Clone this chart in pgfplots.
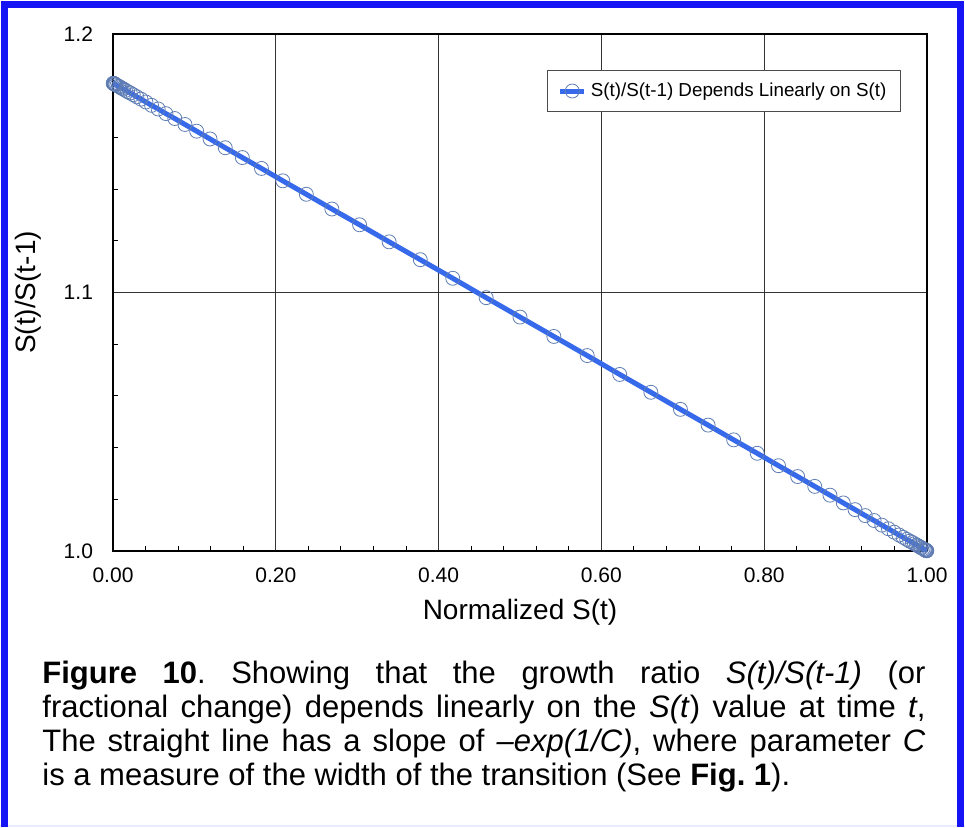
\documentclass[border=0pt]{standalone}
\usepackage{fontspec}
\setmainfont{Liberation Sans}
\usepackage{pgfplots}
\pgfplotsset{compat=1.18}
\definecolor{frameblue}{RGB}{20,20,245}
\definecolor{lineblue}{RGB}{55,105,235}
\definecolor{markgray}{RGB}{95,125,180}

\pgfplotstableread{
x y
0.0003 1.1809
0.0005 1.1809
0.0009 1.1808
0.0013 1.1808
0.0018 1.1807
0.0025 1.1806
0.0034 1.1804
0.0048 1.1801
0.0067 1.1798
0.0079 1.1796
0.0093 1.1793
0.0110 1.1790
0.0129 1.1787
0.0153 1.1782
0.0180 1.1777
0.0212 1.1772
0.0249 1.1765
0.0293 1.1757
0.0344 1.1748
0.0404 1.1737
0.0474 1.1724
0.0555 1.1710
0.0650 1.1692
0.0759 1.1673
0.0884 1.1650
0.1028 1.1624
0.1192 1.1594
0.1379 1.1560
0.1589 1.1522
0.1824 1.1480
0.2086 1.1432
0.2375 1.1380
0.2689 1.1323
0.3029 1.1262
0.3392 1.1196
0.3775 1.1127
0.4174 1.1055
0.4584 1.0980
0.5000 1.0905
0.5416 1.0830
0.5826 1.0756
0.6225 1.0683
0.6608 1.0614
0.6971 1.0548
0.7311 1.0487
0.7625 1.0430
0.7914 1.0378
0.8176 1.0330
0.8411 1.0288
0.8621 1.0250
0.8808 1.0216
0.8972 1.0186
0.9116 1.0160
0.9241 1.0137
0.9350 1.0118
0.9445 1.0100
0.9526 1.0086
0.9596 1.0073
0.9656 1.0062
0.9707 1.0053
0.9751 1.0045
0.9788 1.0038
0.9820 1.0033
0.9847 1.0028
0.9871 1.0023
0.9890 1.0020
0.9907 1.0017
0.9921 1.0014
0.9933 1.0012
0.9952 1.0009
0.9966 1.0006
0.9975 1.0005
0.9982 1.0003
0.9987 1.0002
0.9991 1.0002
0.9995 1.0001
0.9997 1.0001
}\ratiodata

\begin{document}
\frenchspacing
\begin{tikzpicture}[x=1pt,y=1pt]
\useasboundingbox (0,0) rectangle (482.5,413.5);
\fill[white] (0,0) rectangle (482.5,413.5);
% frame: open at the bottom, as in the cropped original
\draw[blue!8, line width=1pt] (0,0.5) -- (482.5,0.5);
\draw[frameblue, line width=3.5pt] (2.25,0) -- (2.25,411.25) -- (480.25,411.25) -- (480.25,0);

\begin{axis}[
  at={(56.5pt,138pt)}, anchor=south west,
  width=407pt, height=258.5pt, scale only axis,
  xmin=0, xmax=1, ymin=1.0, ymax=1.2,
  xtick={0,0.2,0.4,0.6,0.8,1.0},
  ytick={1.0,1.1,1.2},
  minor x tick num=4, minor y tick num=4,
  xtick pos=left, ytick pos=left,
  tick align=inside,
  major tick length=0pt, minor tick length=2.5pt,
  minor tick style={black, line width=0.5pt},
  grid=major,
  major grid style={black!80, line width=0.5pt},
  axis line style={black, line width=1pt},
  /pgf/number format/assume math mode=true,
  xticklabel style={font=\fontsize{10.5}{12}\selectfont, yshift=-5pt,
    /pgf/number format/.cd, fixed, fixed zerofill, precision=2},
  yticklabel style={font=\fontsize{10.5}{12}\selectfont, xshift=-6.5pt,
    /pgf/number format/.cd, fixed, fixed zerofill, precision=1},
  xlabel={Normalized S(t)},
  ylabel={S(t)/S(t-1)},
  xlabel style={font=\fontsize{14}{16}\selectfont,
    at={(axis description cs:0.5,-0.118)}, anchor=center},
  ylabel style={font=\fontsize{14}{16}\selectfont,
    at={(axis description cs:-0.104,0.5)}, anchor=center},
  legend style={font=\fontsize{9.4}{11}\selectfont, at={(0.968,0.930)},
    anchor=north east, draw=black!70, line width=0.5pt,
    inner xsep=5pt, inner ysep=4pt},
  legend cell align=left,
  legend image code/.code={
    \draw[mark repeat=2, mark phase=2, #1] plot coordinates {(-2pt,0pt) (4pt,0pt) (10pt,0pt)};
  },
]
\addplot[lineblue, line width=2.5pt, mark=o, mark size=3.5pt,
  mark options={draw=markgray, line width=0.4pt, fill=none}] table {\ratiodata};
\legend{S(t)/S(t-1) Depends Linearly on S(t)}
\end{axis}

\node[anchor=base west, text width=441.5pt, inner sep=0pt, align=justify,
  font=\fontsize{15.5}{17}\selectfont] at (21,72)
  {\textbf{Figure 10}. Showing that the growth ratio \textit{S(t)/S(t-1)} (or\linebreak
   fractional change) depends linearly on the \textit{S(t}) value at time \textit{t},\linebreak
   The straight line has a slope of \textit{–exp(1/C)}, where parameter \textit{C}\linebreak
   is a measure of the width of the transition (See \textbf{Fig. 1}).};
\end{tikzpicture}
\end{document}
